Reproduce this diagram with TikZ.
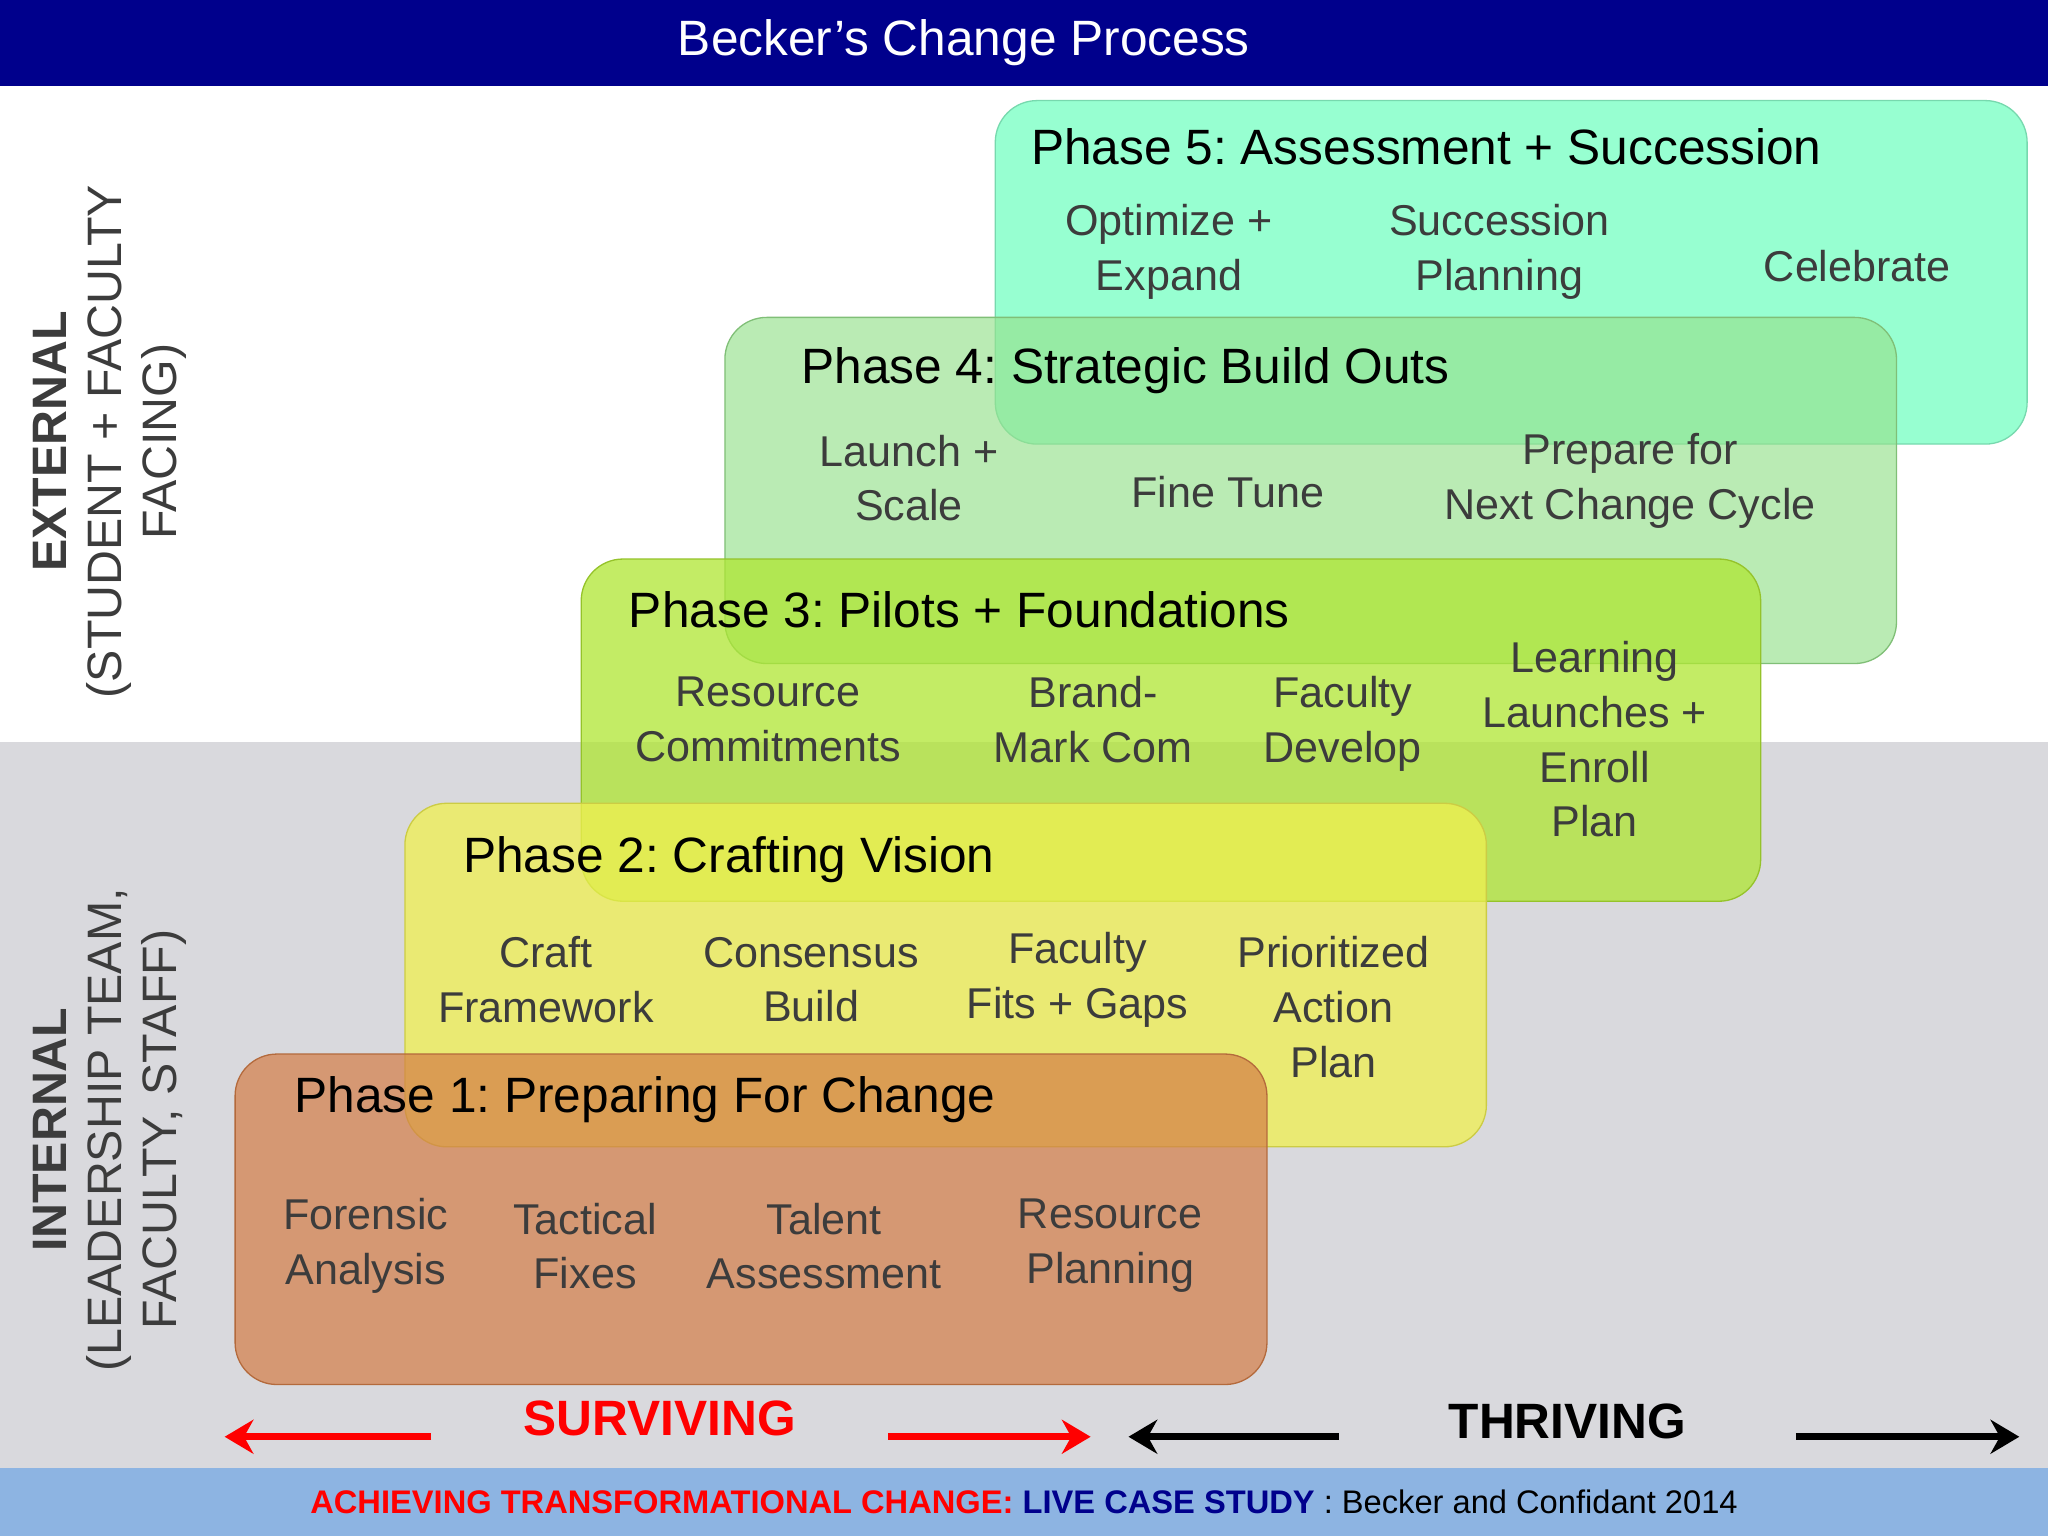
\documentclass[tikz,border=0pt]{standalone}
\usepackage{fontspec}
\setmainfont{Liberation Sans}
\frenchspacing
\usetikzlibrary{arrows.meta}
\definecolor{titleblue}{RGB}{0,0,140}
\definecolor{barblue}{RGB}{141,180,226}
\definecolor{bggray}{RGB}{217,217,221}
\definecolor{pfive}{RGB}{140,255,205}
\definecolor{pfour}{RGB}{150,225,140}
\definecolor{pthree}{RGB}{175,230,50}
\definecolor{ptwo}{RGB}{240,240,80}
\definecolor{pone}{RGB}{212,125,70}
\definecolor{txtgray}{RGB}{60,60,60}
\begin{document}
\begin{tikzpicture}[x=1pt,y=-1pt,
  phase/.style={rounded corners=32pt,draw=#1!85!black,line width=1pt,fill=#1},
  head/.style={anchor=west,font=\fontsize{38}{42}\selectfont},
  item/.style={align=center,text=txtgray,font=\fontsize{33}{42}\selectfont},
  side/.style={rotate=90,align=center,text=txtgray,font=\fontsize{37}{42}\selectfont},
  arr/.style={line width=5pt,-{Stealth[length=22pt,width=26pt]}}]
\useasboundingbox (0,0) rectangle (1568,1176);
\fill[white] (0,0) rectangle (1568,1176);
\fill[bggray] (0,568) rectangle (1568,1124);
\fill[titleblue] (0,0) rectangle (1568,66);
\node[text=white,font=\fontsize{38}{42}\selectfont] (title) at (738,33) {Becker’s Change Process};
\fill[barblue] (0,1124) rectangle (1568,1176);
\node[font=\fontsize{25}{28}\selectfont] (foot) at (784,1150) {\textcolor{red}{\bfseries ACHIEVING TRANSFORMATIONAL CHANGE:} \textcolor{titleblue}{\bfseries LIVE CASE STUDY} : Becker and Confidant 2014};
% phases
\fill[phase=pfive,fill opacity=0.9] (762,77) rectangle (1552,340);
\node[head] (h5) at (786,112) {Phase 5: Assessment + Succession};
\node[item] (a51) at (895,193) {Optimize +\\Expand};
\node[item] (a52) at (1148,193) {Succession\\Planning};
\node[item] (a53) at (1422,204) {Celebrate};
\fill[phase=pfour,fill opacity=0.65] (555,243) rectangle (1452,508);
\node[head] (h4) at (610,284) {Phase 4: Strategic Build Outs};
\node[item] (a41) at (696,366) {Launch +\\Scale};
\node[item] (a42) at (940,377) {Fine Tune};
\node[item] (a43) at (1248,368) {Prepare for\\Next Change Cycle};
\fill[phase=pthree,fill opacity=0.75] (445,428) rectangle (1348,690);
\node[head] (h3) at (478,467) {Phase 3: Pilots + Foundations};
\node[item] (a31) at (588,551) {Resource\\Commitments};
\node[item] (a32) at (837,551) {Brand-\\Mark Com};
\node[item] (a33) at (1028,554) {Faculty\\Develop};
\node[item] (a34) at (1221,566) {Learning\\Launches +\\Enroll\\Plan};
\fill[phase=ptwo,fill opacity=0.75] (310,615) rectangle (1138,878);
\node[head] (h2) at (351,658) {Phase 2: Crafting Vision};
\node[item] (a21) at (418,750) {Craft\\Framework};
\node[item] (a22) at (621,750) {Consensus\\Build};
\node[item] (a23) at (825,750) {Faculty\\Fits + Gaps};
\node[item] (a24) at (1021,771) {Prioritized\\Action\\Plan};
\fill[phase=pone,fill opacity=0.7] (180,807) rectangle (970,1060);
\node[head] (h1) at (222,842) {Phase 1: Preparing For Change};
\node[item] (a11) at (280,954) {Forensic\\Analysis};
\node[item] (a12) at (448,954) {Tactical\\Fixes};
\node[item] (a13) at (631,954) {Talent\\Assessment};
\node[item] (a14) at (850,954) {Resource\\Planning};
% side labels
\node[side] (ext) at (84,338) {\textbf{EXTERNAL}\\(STUDENT + FACULTY\\FACING)};
\node[side] (int) at (84,865) {\textbf{INTERNAL}\\(LEADERSHIP TEAM,\\FACULTY, STAFF)};
% bottom
\node[text=red,font=\bfseries\fontsize{38}{40}\selectfont] (surv) at (505,1086) {SURVIVING};
\node[font=\bfseries\fontsize{38}{40}\selectfont] (thr) at (1200,1088) {THRIVING};
\coordinate (r1) at (330,1100); \coordinate (r1e) at (172,1100);
\coordinate (r2) at (680,1100); \coordinate (r2e) at (835,1100);
\coordinate (b1) at (1025,1100); \coordinate (b1e) at (864,1100);
\coordinate (b2) at (1375,1100); \coordinate (b2e) at (1546,1100);
\draw[arr,red] (r1) -- (r1e);
\draw[arr,red] (r2) -- (r2e);
\draw[arr,black] (b1) -- (b1e);
\draw[arr,black] (b2) -- (b2e);
\end{tikzpicture}
\end{document}
